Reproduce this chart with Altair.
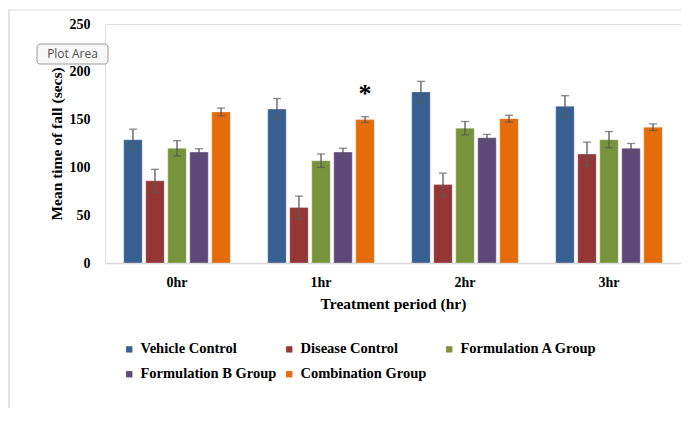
import altair as alt
import pandas as pd

periods = ["0hr", "1hr", "2hr", "3hr"]
groups = ["Vehicle Control", "Disease Control", "Formulation A Group",
          "Formulation B Group", "Combination Group"]
colors = ["#376092", "#953735", "#77933C", "#5F497A", "#E46C0A"]

means = {
    "Vehicle Control":     [129, 161, 179, 164],
    "Disease Control":     [86, 58, 82, 114],
    "Formulation A Group": [120, 107, 141, 129],
    "Formulation B Group": [116, 116, 131, 120],
    "Combination Group":   [158, 150, 151, 142],
}
errors = {
    "Vehicle Control":     [11, 11, 11, 11],
    "Disease Control":     [12, 12, 12, 12.5],
    "Formulation A Group": [8, 7, 7, 8.5],
    "Formulation B Group": [3.5, 4, 3.5, 5],
    "Combination Group":   [4, 3, 3.5, 3.5],
}

ann_period = ["1hr"]
ann_group = ["Combination Group"]
ann_value = [177]
ann_text = ["*"]

rows = []
for g in groups:
    for i, p in enumerate(periods):
        m = means[g][i]
        e = errors[g][i]
        rows.append({"period": p, "group": g, "mean": m, "lo": m - e, "hi": m + e})
df = pd.DataFrame(rows)
ann = pd.DataFrame({"period": ann_period, "group": ann_group,
                    "value": ann_value, "text": ann_text})

SERIF = "Liberation Serif"

x = alt.X("period:N", sort=periods,
          scale=alt.Scale(paddingInner=0.26, paddingOuter=0.13),
          axis=alt.Axis(title="Treatment  period  (hr)", labelAngle=0,
                        labelFont=SERIF, labelFontWeight="bold", labelFontSize=14,
                        labelColor="#000000", labelPadding=12,
                        titleFont=SERIF, titleFontWeight="bold", titleFontSize=15.5,
                        titleColor="#000000", titlePadding=7,
                        domainColor="#d9d9d9", domainWidth=1.5, ticks=False))
xo = alt.XOffset("group:N", sort=groups,
                 scale=alt.Scale(paddingInner=0.16, paddingOuter=0))
yscale = alt.Scale(domain=[0, 250])

bars = alt.Chart(df).mark_bar(stroke="#ffffff", strokeOpacity=0.5, strokeWidth=0.6).encode(
    x=x, xOffset=xo,
    y=alt.Y("mean:Q", scale=yscale,
            axis=alt.Axis(title="Mean  time of fall (secs)", values=[0, 50, 100, 150, 200, 250],
                          labelFont=SERIF, labelFontWeight="bold", labelFontSize=14,
                          labelColor="#000000", labelPadding=15,
                          titleFont=SERIF, titleFontWeight="bold", titleFontSize=15.5,
                          titleColor="#000000", titlePadding=5,
                          domain=False, ticks=False, grid=False)),
    color=alt.Color("group:N", sort=groups,
                    scale=alt.Scale(domain=groups, range=colors),
                    legend=alt.Legend(title=None, orient="none", legendX=17, legendY=318,
                                      direction="horizontal",
                                      columns=3, gridAlign="all", columnPadding=4,
                                      rowPadding=10, padding=0,
                                      symbolType="square", symbolSize=40,
                                      symbolStrokeWidth=0, labelOffset=4,
                                      labelFont=SERIF, labelFontWeight="bold",
                                      labelFontSize=14.5, labelColor="#000000")),
)

err_rule = alt.Chart(df).mark_rule(color="#595959", strokeWidth=1.3).encode(
    x=x, xOffset=xo, y=alt.Y("lo:Q", scale=yscale), y2="hi:Q")
err_hi = alt.Chart(df).mark_tick(color="#595959", thickness=1.3, size=8).encode(
    x=x, xOffset=xo, y=alt.Y("hi:Q", scale=yscale))
err_lo = alt.Chart(df).mark_tick(color="#595959", thickness=1.3, size=8).encode(
    x=x, xOffset=xo, y=alt.Y("lo:Q", scale=yscale))

star = alt.Chart(ann).mark_text(font=SERIF, fontWeight="bold", fontSize=26,
                                baseline="middle", color="#000000").encode(
    x=x, xOffset=xo, y=alt.Y("value:Q", scale=yscale), text="text:N")

# chart-area border (top and left edges) and Excel "Plot Area" tooltip
border_top = alt.Chart(ann).mark_rule(color="#d9d9d9", strokeWidth=1.2).encode(
    x=alt.value(-97), x2=alt.value(580), y=alt.value(-14))
border_left = alt.Chart(ann).mark_rule(color="#d9d9d9", strokeWidth=1.5).encode(
    x=alt.value(-96), y=alt.value(-14), y2=alt.value(400))
tip_box = alt.Chart(ann).mark_rect(fill="#f7f7f7", stroke="#9c9c9c", strokeWidth=1,
                                   cornerRadius=3).encode(
    x=alt.value(-68), x2=alt.value(3), y=alt.value(20), y2=alt.value(40))
tip_text = alt.Chart(ann).mark_text(text="Plot Area", font="Open Sans", fontSize=12,
                                    color="#505050", align="center", baseline="middle").encode(
    x=alt.value(-32.5), y=alt.value(30))

chart = alt.layer(border_top, border_left, bars, err_rule, err_hi, err_lo, star,
                  tip_box, tip_text).properties(
    width=576, height=239,
    autosize=alt.AutoSizeParams(type="none"),
    padding={"left": 97, "top": 16, "right": 0, "bottom": 145},
).configure_view(stroke=None).configure(background="#ffffff")

chart.save("out.html", embed_options={"renderer": "svg", "actions": False})
